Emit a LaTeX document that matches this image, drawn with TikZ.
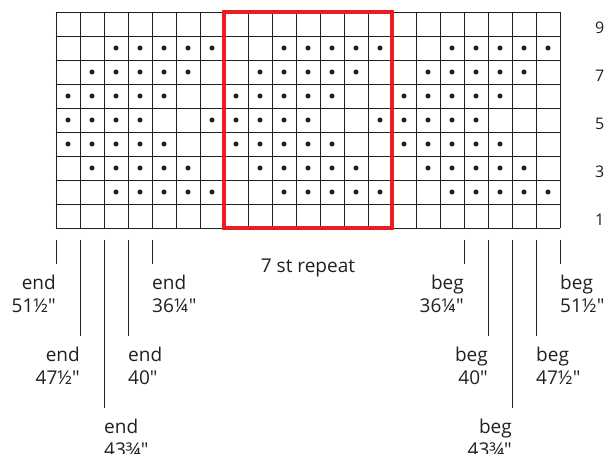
\documentclass[tikz,border=0pt]{standalone}
\usepackage{fontspec}
\setmainfont{Open Sans}[Ligatures=TeXOff]
\usetikzlibrary{positioning}
\definecolor{repeatred}{RGB}{237,28,36}
\definecolor{inkgray}{RGB}{35,31,32}

\begin{document}
\begin{tikzpicture}[
  x=24pt, y=24pt,
  gridline/.style={draw=inkgray, line width=0.8pt},
  repeatbox/.style={draw=repeatred, line width=4.5pt},
  stitch/.style={fill=inkgray},
  tick/.style={draw=inkgray, line width=0.8pt},
  lbl/.style={inner sep=0pt, text=inkgray, font=\fontsize{19}{23}\selectfont},
  rowlbl/.style={inner sep=0pt, text=inkgray, font=\fontsize{16}{19}\selectfont, anchor=west},
  node distance=11pt and 0pt
]
\useasboundingbox (-56pt,-226pt) rectangle (550pt,228pt);

% chart
\draw[gridline, step=24pt] (0,0) grid (21,9);
\foreach \r/\s in {2/2,3/1,4/0,5/-1,6/0,7/1,8/2} {
  \foreach \k in {0,1,2} {
    \foreach \i in {0,...,4} {
      \pgfmathtruncatemacro\c{\s+7*\k+\i}
      \ifnum\c>-1 \fill[stitch] (\c+0.5,\r-0.5) circle[radius=2.5pt]; \fi
    }
  }
}
\draw[repeatbox] (7,0) rectangle (14,9);

% row numbers
\foreach \r in {1,3,5,7,9}
  \node[rowlbl] (row\r) at ([xshift=35pt, yshift=-4pt]21,\r-0.5) {\r};

\node[lbl] (rpt) at (10.5,-1.667) {7 st repeat};

% size markers
\foreach \x/\d [count=\n] in {0/1.5,1/4.5,2/7.5,3/4.5,4/1.5,17/1.5,18/4.5,19/7.5,20/4.5,21/1.5} {
  \coordinate (t\n) at (\x,-0.5);
  \coordinate (b\n) at (\x,-\d);
  \draw[tick] (t\n) -- (b\n);
}
\node[lbl, align=right, below left=of b1] (e1) {end\\51½"};
\node[lbl, align=right, below left=of b2] (e2) {end\\47½"};
\node[lbl, align=left, below right=of b3] (e3) {end\\43¾"};
\node[lbl, align=left, below right=of b4] (e4) {end\\40"};
\node[lbl, align=left, below right=of b5] (e5) {end\\36¼"};
\node[lbl, align=right, below left=of b6] (g1) {beg\\36¼"};
\node[lbl, align=right, below left=of b7] (g2) {beg\\40"};
\node[lbl, align=right, below left=of b8] (g3) {beg\\43¾"};
\node[lbl, align=left, below right=of b9] (g4) {beg\\47½"};
\node[lbl, align=left, below right=of b10] (g5) {beg\\51½"};
\end{tikzpicture}
\end{document}
